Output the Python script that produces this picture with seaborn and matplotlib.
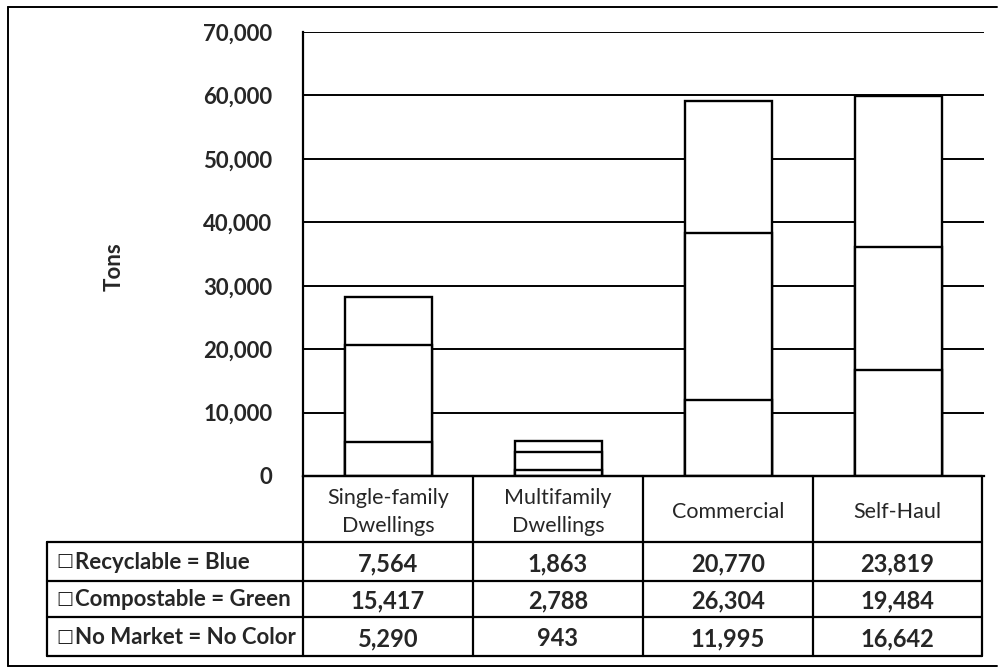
import matplotlib
matplotlib.use('Agg')
import matplotlib.pyplot as plt
import seaborn as sns
import pandas as pd
from matplotlib.lines import Line2D
from matplotlib.ticker import FuncFormatter

# ---- data ----
categories = ["Single-family\nDwellings", "Multifamily\nDwellings", "Commercial", "Self-Haul"]
recyclable = [7564, 1863, 20770, 23819]
compostable = [15417, 2788, 26304, 19484]
no_market = [5290, 943, 11995, 16642]
series_labels = ["Recyclable = Blue", "Compostable = Green", "No Market = No Color"]
y_ticks = [0, 10000, 20000, 30000, 40000, 50000, 60000, 70000]

sns.set_theme(style='white')
plt.rcParams['font.family'] = ['Lato', 'DejaVu Sans']

df = pd.DataFrame({
    "category": categories,
    "no_market": no_market,
    "compostable": compostable,
    "recyclable": recyclable,
})
df["lvl1"] = df["no_market"]
df["lvl2"] = df["lvl1"] + df["compostable"]
df["lvl3"] = df["lvl2"] + df["recyclable"]

# axes geometry (pixels of a 998x669 canvas)
AX_L, AX_R, AX_T, AX_B = 303, 984, 32, 476
fig = plt.figure(figsize=(9.98, 6.69), dpi=100)
ax = fig.add_axes([AX_L / 998, 1 - AX_B / 669, (AX_R - AX_L) / 998, (AX_B - AX_T) / 669])

for col in ["lvl3", "lvl2", "lvl1"]:
    sns.barplot(data=df, x="category", y=col, color="white", saturation=1,
                edgecolor="black", linewidth=1.7, width=0.51, ax=ax, order=categories)

ax.set_ylim(0, 70000)
ax.set_xlim(-0.5, 3.5)
ax.set_yticks(y_ticks)
ax.yaxis.set_major_formatter(FuncFormatter(lambda v, p: f"{int(v):,}"))
ax.yaxis.grid(True, color="black", linewidth=1.4)
ax.set_axisbelow(True)
ax.tick_params(axis="y", length=0, pad=22, labelsize=16)
for t in ax.get_yticklabels():
    t.set_fontweight("bold")
ax.set_xticks([])
ax.set_xlabel("")
ax.set_ylabel("Tons", fontsize=16, fontweight="bold")


def fx(px):
    return (px - AX_L) / (AX_R - AX_L)


def fy(py):
    return (AX_B - py) / (AX_B - AX_T)


ax.yaxis.set_label_coords(fx(125), fy(267))
for s in ["top", "right"]:
    ax.spines[s].set_visible(False)
for s in ["left", "bottom"]:
    ax.spines[s].set_color("black")
    ax.spines[s].set_linewidth(1.6)

# ---- data table (drawn below the axes) ----
col_edges = [47, 303, 473, 643, 813, 982]
row_edges = [476, 542, 581, 617, 656]


def tline(xs, ys):
    ax.add_line(Line2D([fx(x) for x in xs], [fy(y) for y in ys], color="black",
                       linewidth=1.6, transform=ax.transAxes, clip_on=False))


# horizontal lines
tline([col_edges[1], col_edges[-1]], [row_edges[0], row_edges[0]])
for yy in row_edges[1:]:
    tline([col_edges[0], col_edges[-1]], [yy, yy])
# vertical lines
tline([col_edges[0], col_edges[0]], [row_edges[1], row_edges[-1]])
for xx in col_edges[1:]:
    tline([xx, xx], [row_edges[0], row_edges[-1]])

# header text
for i, cat in enumerate(categories):
    cx = (col_edges[i + 1] + col_edges[i + 2]) / 2
    cy = (row_edges[0] + row_edges[1]) / 2 + 3
    ax.text(fx(cx), fy(cy), cat, transform=ax.transAxes, ha="center", va="center",
            fontsize=15.5, linespacing=1.55)

# rows
rows = [recyclable, compostable, no_market]
for r, (label, vals) in enumerate(zip(series_labels, rows)):
    cy = (row_edges[r + 1] + row_edges[r + 2]) / 2
    ax.text(fx(56), fy(cy), "\u25a1", transform=ax.transAxes, ha="left", va="center",
            fontsize=13, family=["DejaVu Sans"])
    ax.text(fx(75), fy(cy + 1), label, transform=ax.transAxes, ha="left", va="center",
            fontsize=16, fontweight="bold")
    for i, v in enumerate(vals):
        cx = (col_edges[i + 1] + col_edges[i + 2]) / 2
        ax.text(fx(cx), fy(cy + 2), f"{v:,}", transform=ax.transAxes, ha="center",
                va="center", fontsize=17, fontweight="bold")

# ---- outer border ----
bx0, bx1 = 8 / 998, 997 / 998
by0, by1 = 1 - 666 / 669, 1 - 7 / 669
for xs, ys in [([bx0, bx1], [by1, by1]), ([bx0, bx0], [by0, by1]), ([bx0, bx1], [by0, by0])]:
    fig.add_artist(Line2D(xs, ys, color="black", linewidth=1.4, transform=fig.transFigure))

fig.savefig("out.png", dpi=100, facecolor="white")
